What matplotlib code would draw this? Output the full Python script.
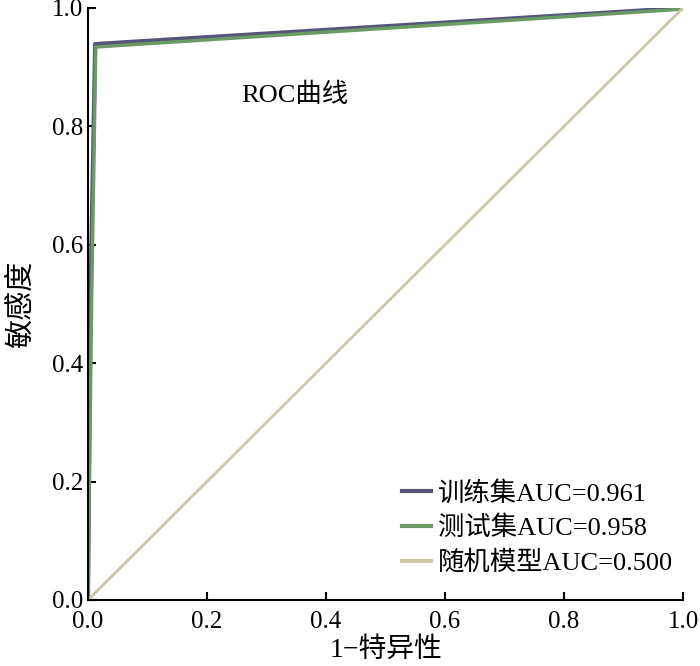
import numpy as np
import matplotlib.pyplot as plt

plt.rcParams['font.family'] = ['Liberation Serif', 'Noto Sans CJK SC']
plt.rcParams['axes.unicode_minus'] = False

# ROC 数据点
fpr_train = [0.0, 0.004, 0.012, 1.0]
tpr_train = [0.0, 0.5, 0.939, 1.0]
fpr_test = [0.0, 0.006, 0.013, 1.0]
tpr_test = [0.0, 0.5, 0.934, 0.998]
fpr_rand = [0.0, 1.0]
tpr_rand = [0.0, 1.0]

labels = ['训练集AUC=0.961', '测试集AUC=0.958', '随机模型AUC=0.500']
colors = ['#55557a', '#6c9a66', '#cfc6a8']

fig = plt.figure(figsize=(7, 6.66), dpi=100)
ax = fig.add_axes([0.1257, 0.0991, 0.85, 0.889])

ax.plot(fpr_train, tpr_train, color=colors[0], lw=3, label=labels[0])
ax.plot(fpr_test, tpr_test, color=colors[1], lw=2.5, label=labels[1])
ax.plot(fpr_rand, tpr_rand, color=colors[2], lw=2, label=labels[2])

ax.set_xlim(0, 1)
ax.set_ylim(0, 1)
ax.set_xticks(np.arange(0, 1.01, 0.2))
ax.set_yticks(np.arange(0, 1.01, 0.2))
ax.tick_params(direction='in', labelsize=18, length=6, width=1.5)
ax.tick_params(axis='x', pad=8)
ax.spines['top'].set_visible(False)
ax.spines['right'].set_visible(False)
ax.spines['left'].set_linewidth(1.5)
ax.spines['bottom'].set_linewidth(1.5)

ax.set_xlabel('1−特异性', fontsize=20, labelpad=3)
ax.set_ylabel('敏感度', fontsize=21, labelpad=12)
ax.text(0.348, 0.853, 'ROC曲线', fontsize=19, ha='center', va='center')

leg = ax.legend(loc='lower right', bbox_to_anchor=(1.01, 0.015), frameon=False,
                fontsize=19, handlelength=1.1, handletextpad=0.25,
                labelspacing=0.4, borderaxespad=0.2)
for line in leg.get_lines():
    line.set_linewidth(3)

plt.savefig('out.png', dpi=100)
